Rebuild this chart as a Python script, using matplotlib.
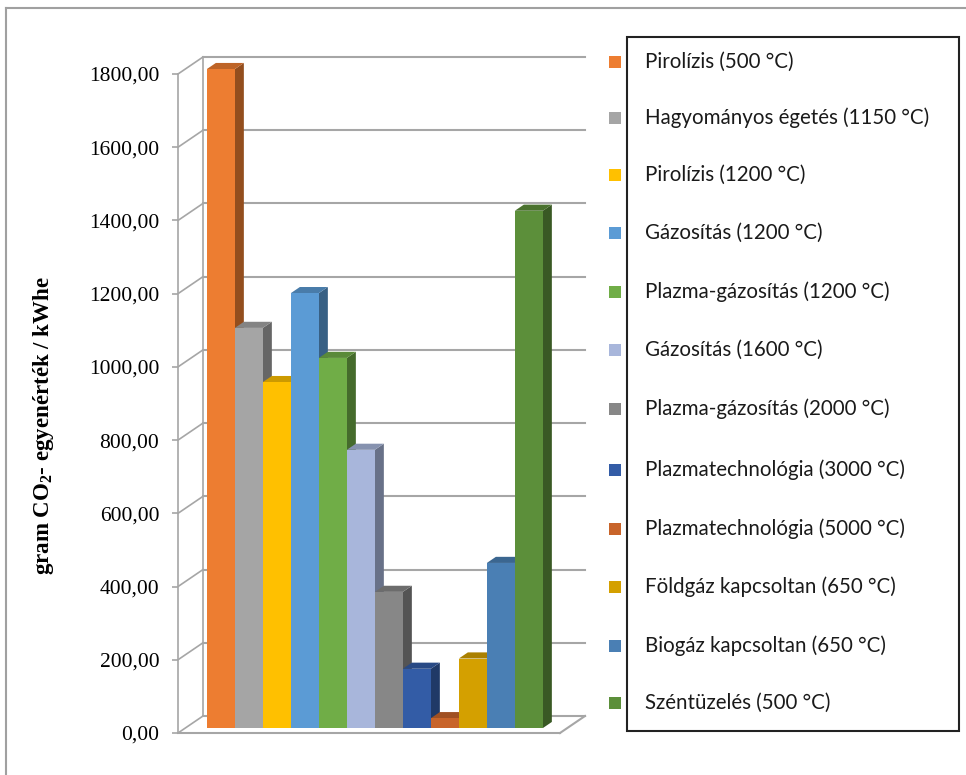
import matplotlib
matplotlib.use("Agg")
import matplotlib.pyplot as plt
from matplotlib.patches import Polygon, Rectangle
from matplotlib.lines import Line2D
import matplotlib.colors as mcolors

labels = [
    "Pirolízis (500 °C)",
    "Hagyományos égetés (1150 °C)",
    "Pirolízis (1200 °C)",
    "Gázosítás (1200 °C)",
    "Plazma-gázosítás (1200 °C)",
    "Gázosítás (1600 °C)",
    "Plazma-gázosítás (2000 °C)",
    "Plazmatechnológia (3000 °C)",
    "Plazmatechnológia (5000 °C)",
    "Földgáz kapcsoltan (650 °C)",
    "Biogáz kapcsoltan (650 °C)",
    "Széntüzelés (500 °C)",
]
values = [1800, 1093, 945, 1188, 1011, 760, 372, 162, 27, 190, 451, 1413]
colors = ["#ED7D31", "#A5A5A5", "#FFC000", "#5B9BD5", "#70AD47", "#A8B6DB",
          "#878787", "#335CA6", "#C8642A", "#D4A000", "#4A7FB4", "#5C8F3A"]
yticks = [0, 200, 400, 600, 800, 1000, 1200, 1400, 1600, 1800]

W, H = 966, 775
fig = plt.figure(figsize=(W / 100, H / 100), dpi=100)

def fx(px):
    return px / W

def fy(py):
    return 1 - py / H

# front plane of the 3d box: x 178..560 px, y 733 (0) .. 74 (1800)
ax = fig.add_axes([fx(178), fy(733), fx(560) - fx(178), fy(74) - fy(733)])
ux0, ux1 = (178 - 199.6) / 28, (560 - 199.6) / 28
ax.set_xlim(ux0, ux1)
ax.set_ylim(0, 1800)

DX = 25 / 28          # depth offset in category units
DY = 17 / 0.366       # depth offset in value units
grid = "#a6a6a6"

# back wall, side wall and floor
for v in yticks:
    ax.plot([ux0 + DX, ux1 + DX], [v + DY, v + DY], color=grid, lw=1.5, clip_on=False, zorder=1)
    ax.plot([ux0, ux0 + DX], [v, v + DY], color=grid, lw=1.2, clip_on=False, zorder=1)
ax.plot([ux0 + DX, ux0 + DX], [DY, 1800 + DY], color=grid, lw=1.2, clip_on=False, zorder=1)
ax.plot([ux1, ux1 + DX], [0, DY], color=grid, lw=1.5, clip_on=False, zorder=1)

# bars with a little depth
d0, d1 = 0.29, 0.65
xs = [i + d0 * DX for i in range(len(values))]

def shade(c, f):
    r, g, b = mcolors.to_rgb(c)
    return (r * f, g * f, b * f)

for i, (x, h, c) in enumerate(zip(xs, values, colors)):
    z = 3 + 2 * i
    side = [(x + 1, d0 * DY), (x + 1 + (d1 - d0) * DX, d1 * DY),
            (x + 1 + (d1 - d0) * DX, d1 * DY + h), (x + 1, d0 * DY + h)]
    top = [(x, d0 * DY + h), (x + 1, d0 * DY + h),
           (x + 1 + (d1 - d0) * DX, d1 * DY + h), (x + (d1 - d0) * DX, d1 * DY + h)]
    ax.add_patch(Polygon(side, closed=True, facecolor=shade(c, 0.62), edgecolor="none",
                         clip_on=False, zorder=z))
    ax.add_patch(Polygon(top, closed=True, facecolor=shade(c, 0.8), edgecolor="none",
                         clip_on=False, zorder=z))
    ax.bar(x, h, width=1, bottom=d0 * DY, align="edge", color=c, clip_on=False, zorder=z + 1)

for s in ["top", "right"]:
    ax.spines[s].set_visible(False)
ax.spines["left"].set_color(grid)
ax.spines["left"].set_linewidth(1.2)
ax.spines["bottom"].set_color(grid)
ax.spines["bottom"].set_linewidth(1.5)
ax.set_xticks([])
ax.set_yticks(yticks)
ax.set_yticklabels([f"{v:.2f}".replace(".", ",") for v in yticks],
                   fontfamily="Liberation Serif", fontsize=15.5)
ax.tick_params(axis="y", length=4.5, color=grid, width=1.2, pad=9)
ax.patch.set_visible(False)

plt.rcParams["mathtext.fontset"] = "custom"
plt.rcParams["mathtext.rm"] = "Liberation Serif"
plt.rcParams["mathtext.bf"] = "Liberation Serif:bold"
fig.text(fx(44), fy(426), r"gram CO$_\mathbf{2}$- egyenérték / kWhe", rotation=90,
         ha="center", va="center", fontfamily="Liberation Serif", fontweight="bold", fontsize=16.5)

# legend box with markers sitting outside the frame
fig.patches.append(Rectangle((fx(627), fy(731)), fx(959) - fx(627), fy(37) - fy(731),
                             transform=fig.transFigure, fill=False, edgecolor="#222222", lw=1.5))
leg_y = [62, 118, 175, 233, 292, 350, 409, 470, 529, 587, 646, 703]
for c, lab, y in zip(colors, labels, leg_y):
    fig.patches.append(Rectangle((fx(609), fy(y + 6)), fx(12), 12 / H,
                                 transform=fig.transFigure, facecolor=c, edgecolor="none"))
    fig.text(fx(645), fy(y), lab, ha="left", va="center", fontfamily="Lato",
             fontsize=14.8, color="#1a1a1a")

# outer chart frame
fig.add_artist(Line2D([fx(6), fx(6)], [fy(8), 0], color="#a0a0a0", lw=1.5))
fig.add_artist(Line2D([fx(6), 1], [fy(8), fy(8)], color="#a0a0a0", lw=1.5))

fig.savefig("out.png", dpi=100)
